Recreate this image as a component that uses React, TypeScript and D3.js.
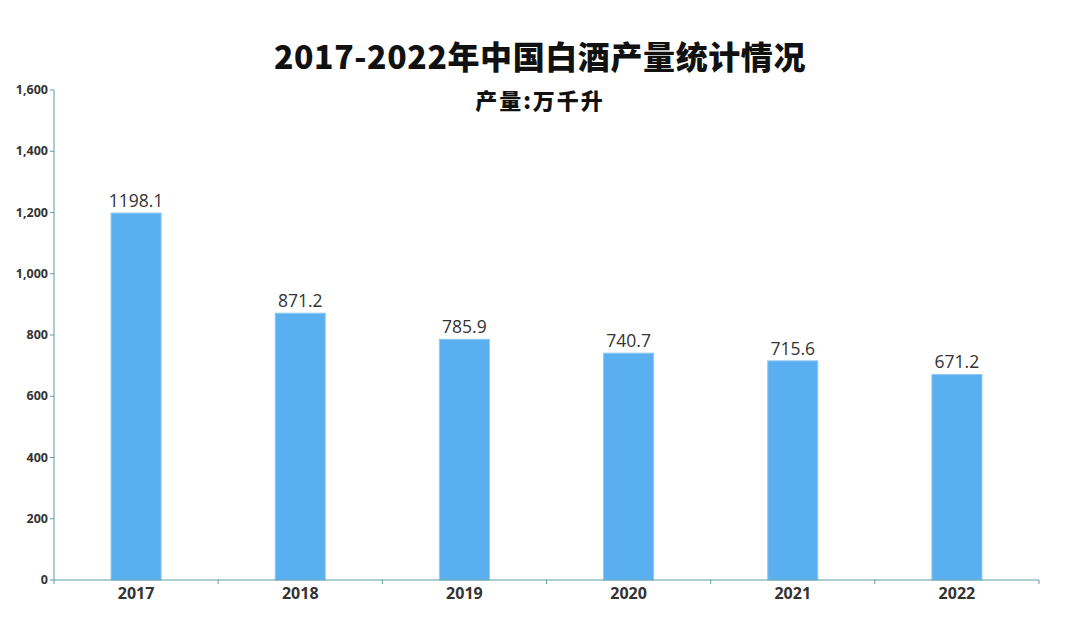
import React from "react";
import * as d3 from "d3";

const years = ["2017", "2018", "2019", "2020", "2021", "2022"];
const output = [1198.1, 871.2, 785.9, 740.7, 715.6, 671.2];
const yTicks = [0, 200, 400, 600, 800, 1000, 1200, 1400, 1600];
const title = "2017-2022年中国白酒产量统计情况";
const subtitle = "产量:万千升";

const W = 1080;
const H = 644;
const left = 54;
const right = 1039;
const top = 90;
const bottom = 580;
const axisColor = "#5b9ea8";
const font = "'Open Sans', 'Noto Sans', 'Noto Sans CJK SC', sans-serif";

export default function App() {
  const x = d3.scaleBand<string>().domain(years).range([left, right]).paddingInner(0).paddingOuter(0);
  const y = d3.scaleLinear().domain([0, 1600]).range([bottom, top]);
  const fmt = d3.format(",");
  const bw = x.bandwidth() * 0.305;
  const boundaries = years.map((yr) => x(yr)!).concat([right]);

  return (
    <svg width={W} height={H} style={{ display: "block", position: "absolute", left: 0, top: 0, background: "#fff" }}>
      <text x={540} y={69} textAnchor="middle" fontFamily="'Noto Sans CJK SC', 'Noto Sans', sans-serif" fontWeight={900} fontSize={32} letterSpacing={0.6} fill="#111">
        {title}
      </text>
      <text x={540} y={109} textAnchor="middle" fontFamily="'Noto Sans CJK SC', 'Noto Sans', sans-serif" fontWeight={900} fontSize={22} letterSpacing={2} fill="#111">
        {subtitle}
      </text>

      {years.map((yr, i) => {
        const cx = x(yr)! + x.bandwidth() / 2;
        return (
          <g key={yr}>
            <rect x={cx - bw / 2} y={y(output[i])} width={bw} height={bottom - y(output[i])} fill="#5aaff0" stroke="#8fcaf5" strokeWidth={1} />
            <text x={cx} y={y(output[i]) - 6} textAnchor="middle" fontFamily={font} fontSize={17.5} fill="#333">
              {output[i].toFixed(1)}
            </text>
            <text x={cx} y={bottom + 19} textAnchor="middle" fontFamily={font} fontWeight={700} fontSize={16} fill="#333">
              {yr}
            </text>
          </g>
        );
      })}

      <line x1={left} x2={left} y1={top} y2={bottom} stroke={axisColor} strokeWidth={1} />
      {yTicks.map((t) => (
        <g key={t}>
          <line x1={left - 4} x2={left} y1={y(t)} y2={y(t)} stroke={axisColor} />
          <text x={left - 6} y={y(t) + 4} textAnchor="end" fontFamily={font} fontWeight={700} fontSize={12.5} fill="#333">
            {fmt(t)}
          </text>
        </g>
      ))}

      <line x1={left} x2={right} y1={bottom} y2={bottom} stroke={axisColor} strokeWidth={1} />
      {boundaries.map((bx, i) => (
        <line key={i} x1={bx} x2={bx} y1={bottom} y2={bottom + 4} stroke={axisColor} />
      ))}
    </svg>
  );
}
